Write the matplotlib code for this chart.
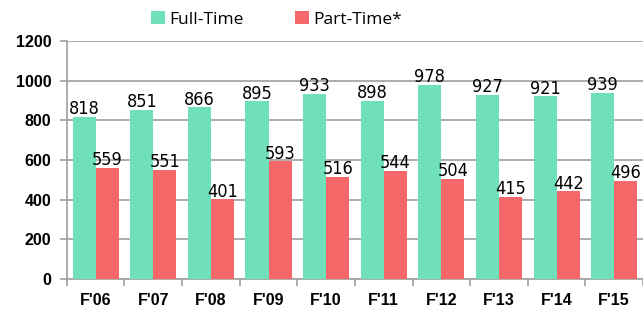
import matplotlib
matplotlib.use("Agg")
import numpy as np
import matplotlib.pyplot as plt
from matplotlib.ticker import MultipleLocator

# ---- data -------------------------------------------------------------------
years     = ["F'06", "F'07", "F'08", "F'09", "F'10", "F'11", "F'12", "F'13", "F'14", "F'15"]
full_time = [818, 851, 866, 895, 933, 898, 978, 927, 921, 939]
part_time = [559, 551, 401, 593, 516, 544, 504, 415, 442, 496]

GREEN = "#6fe0bb"
RED   = "#f56769"
GRID  = "#a6a6a6"

fig = plt.figure(figsize=(6.43, 3.12), dpi=100)
ax = fig.add_axes([0.104, 0.106, 0.896, 0.763])

x = np.arange(len(years))
bw = 0.4
b1 = ax.bar(x - bw / 2, full_time, bw, color=GREEN, label="Full-Time", zorder=3)
b2 = ax.bar(x + bw / 2, part_time, bw, color=RED, label="Part-Time*", zorder=3)

num_font = dict(family="DejaVu Sans", stretch="condensed", fontsize=13)
for bars in (b1, b2):
    for b in bars:
        ax.text(b.get_x() + b.get_width() / 2, b.get_height() - 7, f"{int(b.get_height())}",
                ha="center", va="bottom", zorder=4, **num_font)

ax.set_xlim(-0.5, len(years) - 0.5)
ax.set_ylim(0, 1200)
ax.yaxis.set_major_locator(MultipleLocator(200))
ax.grid(axis="y", color=GRID, lw=1.3, zorder=0)

ax.set_xticks(x)
ax.set_xticklabels(years)
ax.set_xticks(np.arange(-0.5, len(years)), minor=True)
ax.tick_params(axis="x", which="major", length=0, pad=10)
ax.tick_params(axis="x", which="minor", length=5, color=GRID, width=1.3)
ax.tick_params(axis="y", length=5, color=GRID, width=1.3, pad=6)
for lab in ax.get_xticklabels() + ax.get_yticklabels():
    lab.set_fontweight("bold")
    lab.set_fontsize(11.5)
    lab.set_family("Liberation Sans")

for sp in ("top", "right"):
    ax.spines[sp].set_visible(False)
for sp in ("left", "bottom"):
    ax.spines[sp].set_color(GRID)
    ax.spines[sp].set_linewidth(1.3)

fig.legend(handles=[b1, b2], loc="upper center", bbox_to_anchor=(0.43, 1.015), ncol=2,
           frameon=False, prop=dict(family="Open Sans", size=12.5), handlelength=0.8,
           handleheight=0.8, handletextpad=0.25, columnspacing=3.0)

fig.savefig("out.png", dpi=100)
